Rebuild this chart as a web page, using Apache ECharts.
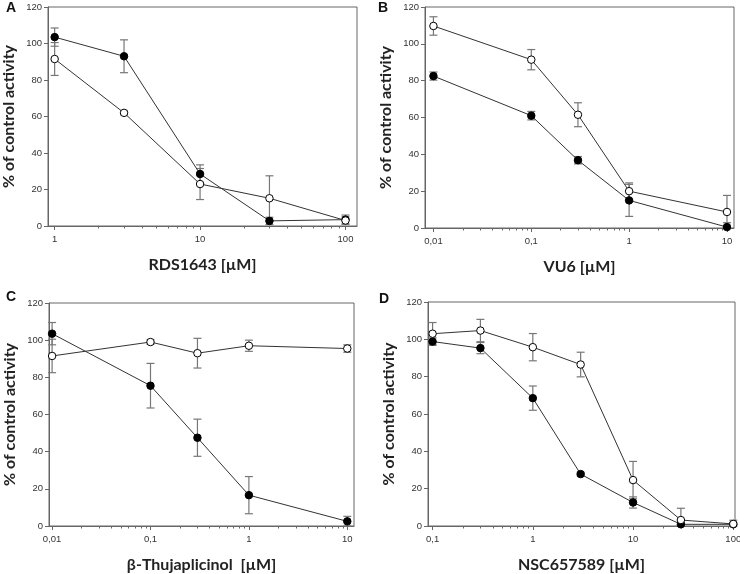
<!DOCTYPE html>
<html style='height: 100%'>
<head>
    <meta charset='utf-8'>
</head>
<body style='height: 100%; margin: 0; background: #fff'>
    <div id='container' style='width: 740px; height: 574px'></div>
    <script src="https://cdn.jsdelivr.net/npm/echarts@6/dist/echarts.min.js"></script>
    <script type="text/javascript">
// panel A - RDS1643
var xA = [1, 3, 10, 30, 100];
var aFilled = [103.5, 93, 28.5, 2.8, 3.5];
var aFilledErr = [5, 9, 5, 2, 2.5];
var aOpen = [91.5, 62, 23, 15.2, 3];
var aOpenErr = [9, 1, 8.5, 12.3, 2];
var ticksA = [1, 10, 100];

// panel B - VU6
var xB = [0.01, 0.1, 0.3, 1, 10];
var bFilled = [82.5, 61, 36.8, 15, 0.5];
var bFilledErr = [2.2, 2.3, 2, 8.7, 2.4];
var bOpen = [109.7, 91.4, 61.5, 20, 8.7];
var bOpenErr = [5, 5.5, 6.5, 4.5, 9];
var ticksB = [0.01, 0.1, 1, 10];

// panel C - beta-Thujaplicinol
var xC = [0.01, 0.1, 0.3, 1, 10];
var cFilled = [103.5, 75.5, 47.5, 16.6, 2.5];
var cFilledErr = [6, 12, 10, 10, 2.7];
var cOpen = [91.5, 99, 93, 97, 95.5];
var cOpenErr = [9, 1.2, 8, 3, 2];
var ticksC = [0.01, 0.1, 1, 10];

// panel D - NSC657589
var xD = [0.1, 0.3, 1, 3, 10, 30, 100];
var dFilled = [98.8, 95.3, 68.5, 27.8, 12.6, 0.9, 0.9];
var dFilledErr = [2, 3, 6.5, 1, 3, 1, 1];
var dOpen = [103, 104.7, 95.8, 86.5, 24.6, 3.2, 1.1];
var dOpenErr = [6, 6, 7.3, 6.6, 10, 6.3, 2];
var ticksD = [0.1, 1, 10, 100];

var yTicks = [0, 20, 40, 60, 80, 100, 120];

var panels = [
    {letter: 'A', name: 'RDS1643 [µM]', x: xA, f: aFilled, fe: aFilledErr, o: aOpen, oe: aOpenErr, ticks: ticksA,
     min: 0.9, max: 120, grid: {left: 48, top: 7, width: 309, height: 219}, lx: 1, ly: 0},
    {letter: 'B', name: 'VU6 [µM]', x: xB, f: bFilled, fe: bFilledErr, o: bOpen, oe: bOpenErr, ticks: ticksB,
     min: 0.0082, max: 11.8, grid: {left: 425, top: 7, width: 309, height: 221}, lx: 373, ly: 0},
    {letter: 'C', name: 'β-Thujaplicinol  [µM]', x: xC, f: cFilled, fe: cFilledErr, o: cOpen, oe: cOpenErr, ticks: ticksC,
     min: 0.0093, max: 11.7, grid: {left: 49, top: 303, width: 305, height: 223}, lx: 1, ly: 289},
    {letter: 'D', name: 'NSC657589 [µM]', x: xD, f: dFilled, fe: dFilledErr, o: dOpen, oe: dOpenErr, ticks: ticksD,
     min: 0.09, max: 104, grid: {left: 428, top: 302, width: 307, height: 224}, lx: 374, ly: 291}
];

function minorTicks(t, min, max) {
    var out = [];
    for (var i = 0; i < t.length; i++) {
        for (var k = 1; k < 10; k++) {
            var v = +(t[i] * k).toPrecision(6);
            if (v >= min && v <= max) out.push(v);
        }
    }
    return out;
}

function errData(x, y, e) {
    return x.map(function (v, i) { return [v, Math.max(0, y[i] - e[i]), y[i] + e[i]]; });
}

function pairs(x, y) {
    return x.map(function (v, i) { return [v, y[i]]; });
}

var axisColor = '#666';
var labelFont = 'Liberation Sans, Arial, sans-serif';
var titleFont = 'Lato, Open Sans, sans-serif';

var option = {
    animation: false,
    backgroundColor: '#fff',
    title: [],
    grid: [],
    xAxis: [],
    yAxis: [],
    series: []
};

panels.forEach(function (p, i) {
    var g = p.grid;
    option.grid.push({left: g.left, top: g.top, width: g.width, height: g.height,
        show: true, borderColor: axisColor, borderWidth: 1, outerBoundsMode: 'none'});
    option.title.push({text: p.letter, left: p.lx, top: p.ly - 4,
        textStyle: {fontFamily: labelFont, fontSize: 14, fontWeight: 'bold', color: '#111'}});
    // main x axis: labels + major ticks
    option.xAxis.push({
        type: 'log', gridIndex: i, min: p.min, max: p.max, logBase: 10,
        name: p.name, nameLocation: 'middle', nameGap: 31,
        nameTextStyle: {fontFamily: titleFont, fontSize: 16, fontWeight: 'bold', color: '#222'},
        axisLine: {lineStyle: {color: axisColor}},
        axisTick: {customValues: p.ticks, length: 4, lineStyle: {color: axisColor}},
        axisLabel: {customValues: p.ticks, fontFamily: labelFont, fontSize: 9.5, color: '#333', margin: 8,
            formatter: function (v) { return String(+v.toPrecision(6)).replace('.', ','); }},
        splitLine: {show: false}
    });
    // minor ticks
    option.xAxis.push({
        type: 'log', gridIndex: i, min: p.min, max: p.max, logBase: 10, position: 'bottom',
        axisLine: {show: false},
        axisTick: {customValues: minorTicks(p.ticks, p.min, p.max), length: 2.5, lineStyle: {color: axisColor}},
        axisLabel: {show: false},
        splitLine: {show: false}
    });
    option.yAxis.push({
        type: 'value', gridIndex: i, min: 0, max: 120, interval: 20,
        name: '% of control activity', nameLocation: 'middle', nameGap: 31,
        nameTextStyle: {fontFamily: titleFont, fontSize: 16, fontWeight: 'bold', color: '#222'},
        axisLine: {show: true, lineStyle: {color: axisColor}},
        axisTick: {show: true, length: 4, lineStyle: {color: axisColor}},
        axisLabel: {fontFamily: labelFont, fontSize: 9.5, color: '#333', margin: 6,
            customValues: yTicks},
        splitLine: {show: false}
    });

    var xi = i * 2;
    [[p.f, p.fe], [p.o, p.oe]].forEach(function (s) {
        option.series.push({
            type: 'custom', xAxisIndex: xi, yAxisIndex: i, z: 1,
            data: errData(p.x, s[0], s[1]),
            renderItem: function (params, api) {
                var lo = api.coord([api.value(0), api.value(1)]);
                var hi = api.coord([api.value(0), api.value(2)]);
                var w = 4;
                var st = {stroke: '#777', lineWidth: 1.2};
                return {type: 'group', children: [
                    {type: 'line', shape: {x1: lo[0], y1: lo[1], x2: hi[0], y2: hi[1]}, style: st},
                    {type: 'line', shape: {x1: lo[0] - w, y1: lo[1], x2: lo[0] + w, y2: lo[1]}, style: st},
                    {type: 'line', shape: {x1: hi[0] - w, y1: hi[1], x2: hi[0] + w, y2: hi[1]}, style: st}
                ]};
            }
        });
    });
    option.series.push({
        type: 'line', xAxisIndex: xi, yAxisIndex: i, z: 3,
        data: pairs(p.x, p.f), symbol: 'circle', symbolSize: 7.5,
        lineStyle: {color: '#333', width: 1},
        itemStyle: {color: '#000', borderColor: '#000', borderWidth: 1}
    });
    option.series.push({
        type: 'line', xAxisIndex: xi, yAxisIndex: i, z: 4,
        data: pairs(p.x, p.o), symbol: 'circle', symbolSize: 7.5,
        lineStyle: {color: '#333', width: 1},
        itemStyle: {color: '#fff', borderColor: '#000', borderWidth: 1}
    });
});

var myChart = echarts.init(document.getElementById('container'));
myChart.setOption(option, true);
    </script>
</body>
</html>
